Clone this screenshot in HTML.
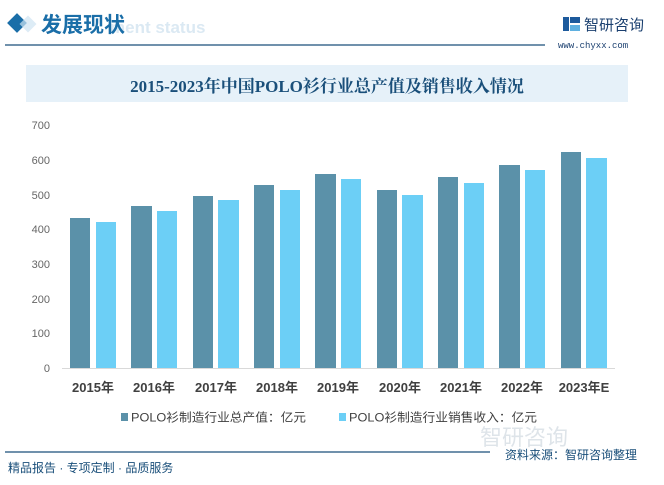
<!DOCTYPE html>
<html><head><meta charset="utf-8"><style>
body{margin:0;background:#fff;}
svg{display:block;font-family:"Liberation Sans","Noto Sans CJK SC",sans-serif;}
</style></head><body>
<svg width="664" height="485" viewBox="0 0 664 485" xmlns="http://www.w3.org/2000/svg">
<rect width="664" height="485" fill="#fff"/>
<rect x="10" y="16" width="14" height="14" fill="#1a6ea8" transform="rotate(45 17 23)"/>
<rect x="22" y="18" width="12" height="12" fill="#cfe4f2" transform="rotate(45 28 24)" opacity="0.7"/>
<text x="110" y="33" font-size="17" fill="#dbe9f3" font-weight="bold">ment status</text>
<text x="41" y="32" font-size="21" fill="#1a6ea8" font-weight="bold">发展现状</text>
<line x1="5" y1="45" x2="545" y2="45" stroke="#1a4f7a" stroke-width="1.3"/>
<rect x="563" y="17" width="6" height="14" fill="#1d5a9c"/>
<rect x="570" y="17" width="10" height="6" fill="#1d5a9c"/>
<rect x="570" y="25" width="10" height="6" fill="#5fb0e0"/>
<text x="584" y="30" font-size="15" fill="#1a3f6f">智研咨询</text>
<text x="558" y="48" font-size="9" fill="#1a3f6f" font-family="Liberation Mono,monospace">www.chyxx.com</text>
<rect x="26" y="65" width="602" height="37" fill="#e6f1f9"/>
<text x="327" y="92" font-size="17" fill="#1a4f7a" font-weight="bold" text-anchor="middle" font-family="Liberation Serif,'Noto Serif CJK SC',serif">2015-2023年中国POLO衫行业总产值及销售收入情况</text>
<g font-size="11" fill="#666" text-anchor="end">
<text x="50" y="129">700</text><text x="50" y="164">600</text><text x="50" y="199">500</text>
<text x="50" y="233">400</text><text x="50" y="268">300</text><text x="50" y="303">200</text>
<text x="50" y="337">100</text><text x="50" y="372">0</text>
</g>
<line x1="62" y1="368.5" x2="615" y2="368.5" stroke="#d9d9d9" stroke-width="1"/>
<g fill="#5b91a9">
<rect x="70" y="218" width="20" height="150"/>
<rect x="131" y="206" width="21" height="162"/>
<rect x="193" y="196" width="20" height="172"/>
<rect x="254" y="185" width="20" height="183"/>
<rect x="315" y="174" width="21" height="194"/>
<rect x="377" y="190" width="20" height="178"/>
<rect x="438" y="177" width="20" height="191"/>
<rect x="499" y="165" width="21" height="203"/>
<rect x="561" y="152" width="20" height="216"/>
</g>
<g fill="#6ccff6">
<rect x="96" y="222" width="20" height="146"/>
<rect x="157" y="211" width="20" height="157"/>
<rect x="218" y="200" width="21" height="168"/>
<rect x="280" y="190" width="20" height="178"/>
<rect x="341" y="179" width="20" height="189"/>
<rect x="402" y="195" width="21" height="173"/>
<rect x="464" y="183" width="20" height="185"/>
<rect x="525" y="170" width="20" height="198"/>
<rect x="586" y="158" width="21" height="210"/>
</g>
<g font-size="13" fill="#404040" font-weight="bold" text-anchor="middle">
<text x="93" y="392">2015年</text><text x="154" y="392">2016年</text><text x="216" y="392">2017年</text>
<text x="277" y="392">2018年</text><text x="338" y="392">2019年</text><text x="400" y="392">2020年</text>
<text x="461" y="392">2021年</text><text x="522" y="392">2022年</text><text x="584" y="392">2023年E</text>
</g>
<rect x="121" y="413" width="7" height="8" fill="#5b91a9"/>
<text x="131" y="421.5" font-size="12" fill="#404040" textLength="175" lengthAdjust="spacingAndGlyphs">POLO衫制造行业总产值：亿元</text>
<rect x="339" y="413" width="7" height="8" fill="#6ccff6"/>
<text x="349" y="421.5" font-size="12" fill="#404040" textLength="188" lengthAdjust="spacingAndGlyphs">POLO衫制造行业销售收入：亿元</text>
<text x="480" y="445" font-size="22" fill="#c9d3dc" opacity="0.6">智研咨询</text>
<line x1="5" y1="452" x2="490" y2="452" stroke="#1a4f7a" stroke-width="1.2"/>
<text x="505" y="459" font-size="12" fill="#1a4f7a">资料来源：智研咨询整理</text>
<text x="8" y="472" font-size="12" fill="#1a4f7a">精品报告 · 专项定制 · 品质服务</text>
</svg>
</body></html>
